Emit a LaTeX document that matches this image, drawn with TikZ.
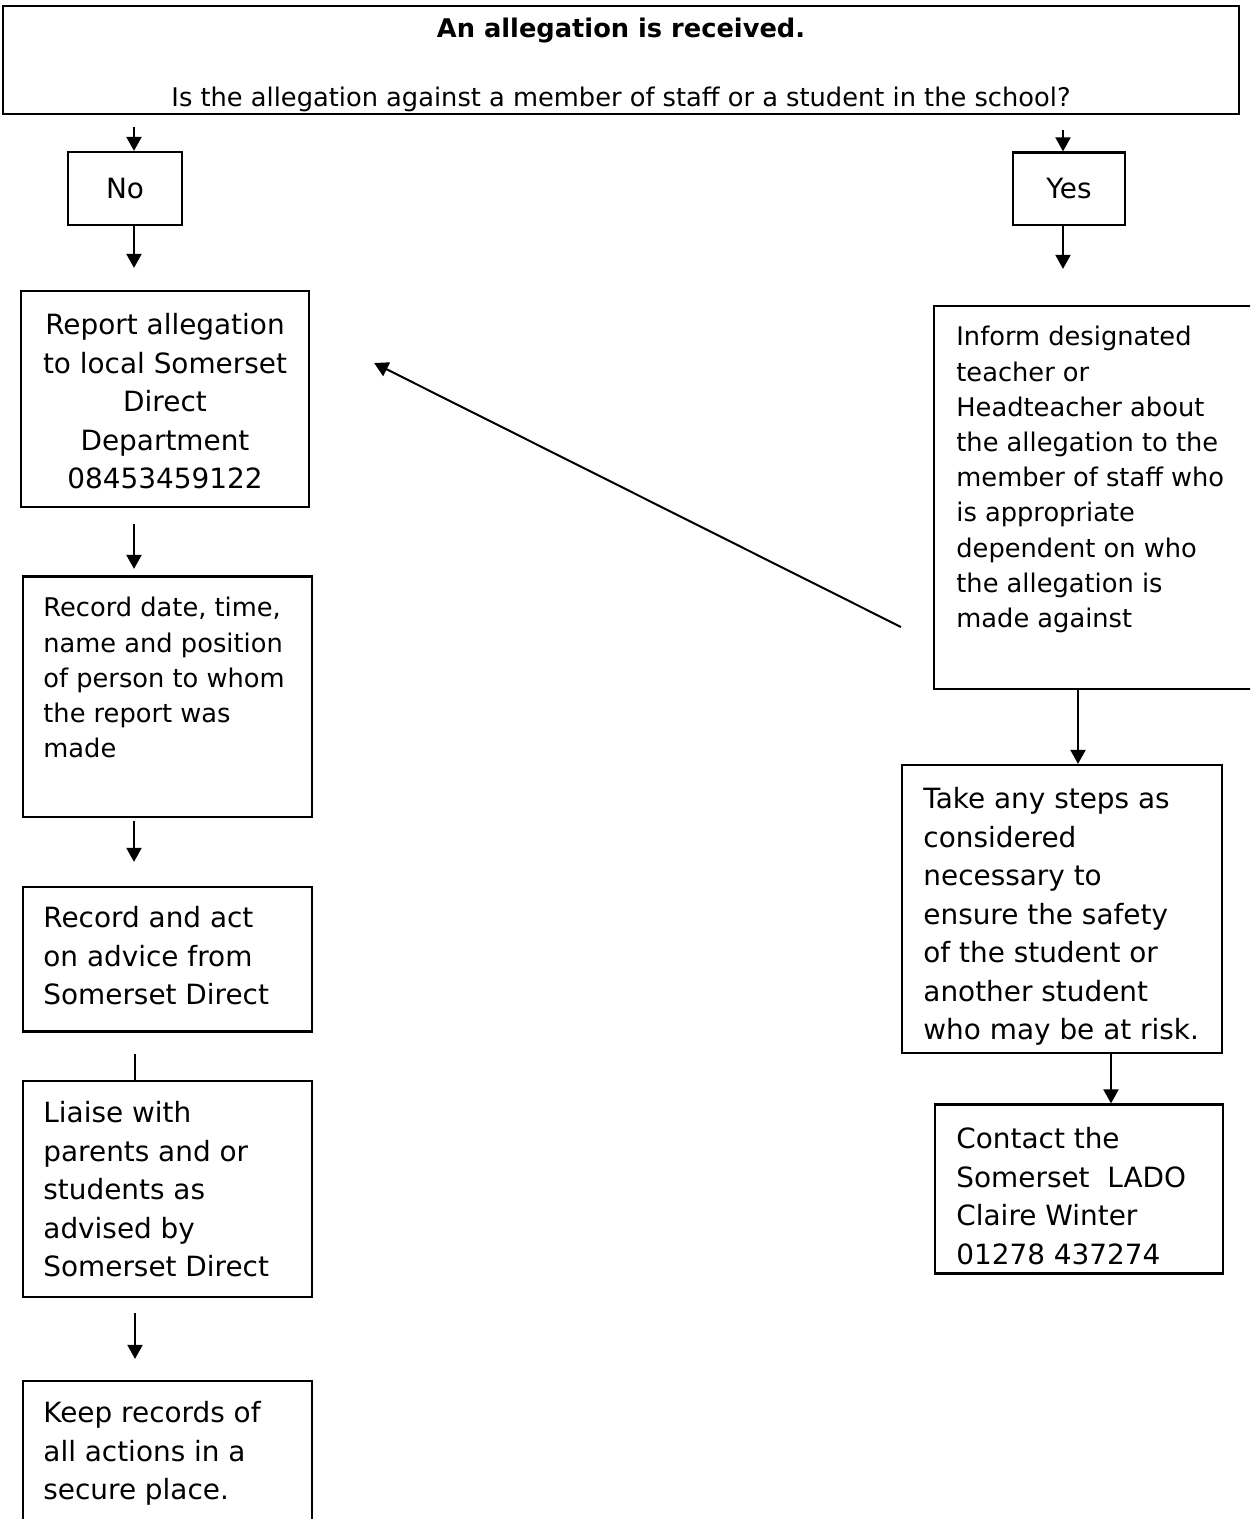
\documentclass[tikz,border=0pt]{standalone}
\usepackage{fontspec}
\setmainfont{DejaVu Sans}
\usetikzlibrary{arrows.meta}

\tikzset{
  box/.style={draw, line width=1.1pt, inner sep=0pt},
  bigtxt/.style={font=\fontsize{13.95}{19.25}\selectfont, inner sep=0pt},
  smalltxt/.style={font=\fontsize{12.85}{17.6}\selectfont, inner sep=0pt},
  flow/.style={line width=1pt, -{Triangle[width=7.5pt,length=7pt]}},
  plainline/.style={line width=1pt}
}

\begin{document}
\begin{tikzpicture}[x=0.5pt,y=0.5pt,yscale=-1,xscale=1]
        \useasboundingbox (0,0) rectangle (1250,1519);
        \clip (0,0) rectangle (1250,1519);

        % Boxes
        \node [box, minimum width=618pt, minimum height=54pt] (question) at (621,60) {};
        \node [box, minimum width=57pt, minimum height=36.5pt] (no) at (125,188.5) {};
        \node [box, minimum width=56pt, minimum height=36.25pt] (yes) at (1069,188.75) {};
        \node [box, minimum width=144pt, minimum height=108pt] (report) at (165,399) {};
        \node [box, minimum width=144.5pt, minimum height=120.25pt] (record) at (167.5,696.75) {};
        \node [box, minimum width=144.5pt, minimum height=72.25pt] (act) at (167.5,959.25) {};
        \node [box, minimum width=144.5pt, minimum height=108pt] (liaise) at (167.5,1189) {};
        \node [box, minimum width=144.5pt, minimum height=109.5pt] (keep) at (167.5,1490.5) {};
        \node [box, minimum width=183pt, minimum height=191.5pt] (inform) at (1117,497.5) {};
        \node [box, minimum width=160pt, minimum height=144pt] (take) at (1062,909) {};
        \node [box, minimum width=144pt, minimum height=84.5pt] (contact) at (1079,1189) {};

        % Text Nodes
        \node [smalltxt, anchor=north, font=\fontsize{12.85}{17.6}\selectfont\bfseries] (titletxt) at (621,18) {An allegation is received.};
        \node [smalltxt, anchor=north] (questiontxt) at (621,87) {Is the allegation against a member of staff or a student in the school?};
        \node [bigtxt] (notxt) at (no.center) {No};
        \node [bigtxt] (yestxt) at (yes.center) {Yes};
        \node [bigtxt, anchor=north, align=center] (reporttxt) at (165,313)
          {Report allegation\\to local Somerset\\Direct\\Department\\08453459122};
        \node [smalltxt, anchor=north west, align=left] (recordtxt) at (43,597)
          {Record date, time,\\name and position\\of person to whom\\the report was\\made};
        \node [bigtxt, anchor=north west, align=left] (acttxt) at (43,906)
          {Record and act\\on advice from\\Somerset Direct};
        \node [bigtxt, anchor=north west, align=left] (liaisetxt) at (43,1101)
          {Liaise with\\parents and or\\students as\\advised by\\Somerset Direct};
        \node [bigtxt, anchor=north west, align=left] (keeptxt) at (43,1401)
          {Keep records of\\all actions in a\\secure place.};
        \node [smalltxt, anchor=north west, align=left] (informtxt) at (956,326)
          {Inform designated\\teacher or\\Headteacher about\\the allegation to the\\member of staff who\\is appropriate\\dependent on who\\the allegation is\\made against};
        \node [bigtxt, anchor=north west, align=left] (taketxt) at (923,787)
          {Take any steps as\\considered\\necessary to\\ensure the safety\\of the student or\\another student\\who may be at risk.};
        \node [bigtxt, anchor=north west, align=left] (contacttxt) at (956,1127)
          {Contact the\\Somerset\ \ LADO\\Claire Winter\\01278 437274};

        % Arrow columns
        \coordinate (colL) at (134,0);
        \coordinate (colR) at (1063,0);
        \coordinate (colI) at (1078,0);
        \coordinate (colT) at (1111,0);

        % Connectors (yscale=-1 flips yshift, so a positive yshift goes down)
        \draw [flow] ([yshift=6pt]question.south -| colL) -- (no.north -| colL);
        \draw [flow] ([yshift=7.5pt]question.south -| colR) -- (yes.north -| colR);
        \draw [flow] (no.south -| colL) -- ([yshift=-11pt]report.north -| colL);
        \draw [flow] (yes.south -| colR) -- ([yshift=-18pt]inform.north -| colR);
        \draw [flow] ([yshift=8pt]report.south -| colL) -- ([yshift=-3.25pt]record.north -| colL);
        \draw [flow] ([yshift=1.5pt]record.south -| colL) -- ([yshift=-12pt]act.north -| colL);
        \draw [plainline] ([xshift=0.5pt,yshift=10.5pt]act.south -| colL) -- ([xshift=0.5pt]liaise.north -| colL);
        \draw [flow] ([xshift=0.5pt,yshift=7.5pt]liaise.south -| colL) -- ([xshift=0.5pt,yshift=-10.5pt]keep.north -| colL);
        \draw [flow] (inform.south -| colI) -- (take.north -| colI);
        \draw [flow] (take.south -| colT) -- (contact.north -| colT);
        \draw [flow] ([shift={(-16pt,64.75pt)}]inform.west) -- ([shift={(32pt,-18pt)}]report.east);
\end{tikzpicture}
\end{document}
